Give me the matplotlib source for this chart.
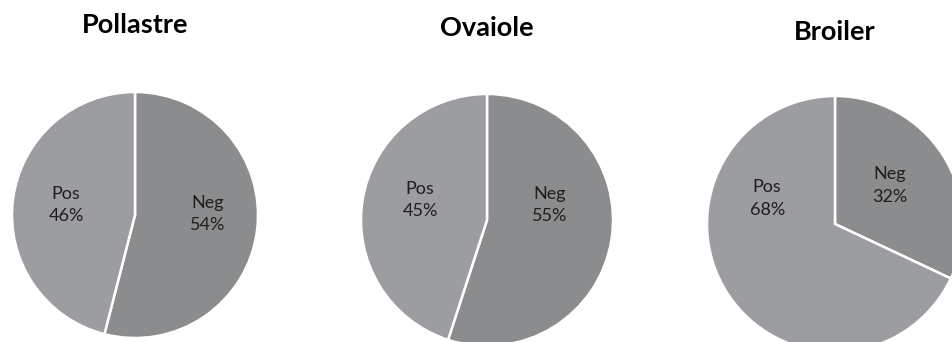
import matplotlib.pyplot as plt

# share of Neg / Pos samples per flock type
groups = ['Pollastre', 'Ovaiole', 'Broiler']
categories = ['Neg', 'Pos']
neg_pct = [54, 55, 32]
pos_pct = [46, 45, 68]

colors = ['#8b8c8e', '#9c9da0']

W, H = 953, 342
# pie centre (px from top-left) and radius in px
pies = [(135, 215, 123), (487, 220, 126), (835, 224, 128)]
# label spots, in units of the pie radius
label_pos = [
    [(0.59, 0.01), (-0.56, 0.08)],
    [(0.50, 0.12), (-0.53, 0.16)],
    [(0.43, 0.30), (-0.53, 0.20)],
]
title_y = [25, 28, 32]

plt.rcParams['font.family'] = ['Lato', 'DejaVu Sans']

fig = plt.figure(figsize=(W / 100, H / 100), dpi=100)

for i, name in enumerate(groups):
    cx, cy, r = pies[i]
    ax = fig.add_axes([(cx - r) / W, (H - cy - r) / H, 2 * r / W, 2 * r / H])
    vals = [neg_pct[i], pos_pct[i]]
    ax.pie(vals, colors=colors, startangle=90, counterclock=False,
           wedgeprops=dict(edgecolor='white', linewidth=1.8))
    ax.set_xlim(-1, 1)
    ax.set_ylim(-1, 1)
    ax.set_aspect('equal')
    ax.axis('off')
    for j, cat in enumerate(categories):
        lx, ly = label_pos[i][j]
        ax.text(lx, ly, f'{cat}\n{vals[j]}%', ha='center', va='center',
                fontsize=13, color='#1e1e1e', linespacing=1.5)
    fig.text(cx / W, 1 - title_y[i] / H, name, ha='center', va='center',
             fontsize=19.5, fontweight='bold', color='black')

fig.savefig('out.png', dpi=100)
